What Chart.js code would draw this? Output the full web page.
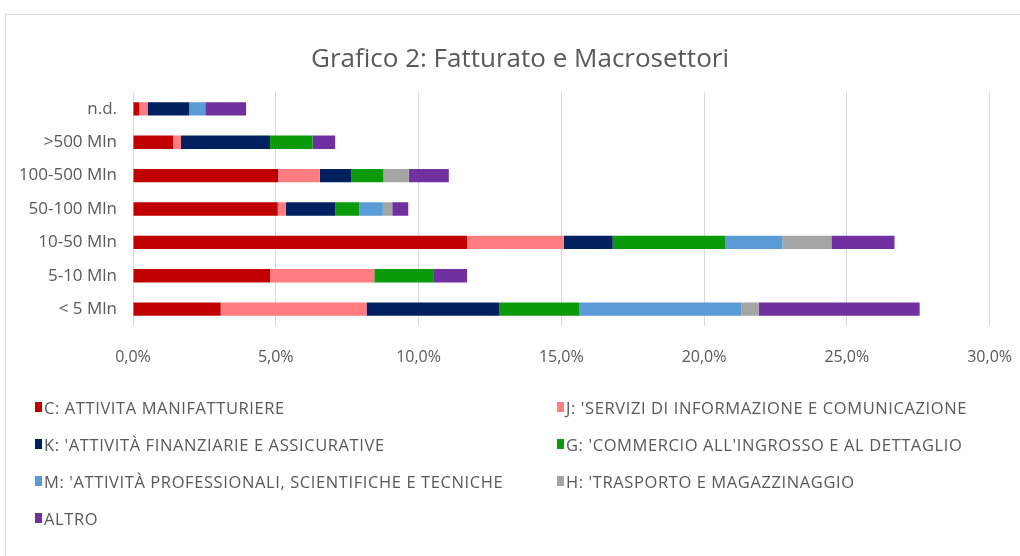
<!DOCTYPE html>
<html>
<head>
<meta charset="utf-8">
<script src="https://cdn.jsdelivr.net/npm/chart.js@4.4.1/dist/chart.umd.min.js"></script>
<style>
  html, body { margin: 0; padding: 0; background: #fff; overflow: hidden; }
  body { width: 1020px; height: 556px; position: relative; font-family: "Open Sans", sans-serif; }
  #frame { position: absolute; left: 5px; top: 14px; width: 1100px; height: 600px; border: 1px solid #d9d9d9; }
  #chart { position: absolute; left: 0; top: 0; }
  #legend { position: absolute; left: 35px; top: 395px; display: grid; grid-template-columns: 522px auto; grid-auto-rows: 37px; color: #595959; font-size: 16.5px; letter-spacing: 0.6px; }
  #legend .item { display: flex; align-items: center; white-space: nowrap; height: 24px; }
  #legend .box { width: 7px; height: 10px; margin-right: 2px; }
</style>
</head>
<body>
<div id="frame"></div>
<canvas id="chart" width="1034" height="398"></canvas>
<div id="legend"></div>
<script>
// categorie (dall'alto in basso)
const categories = ["n.d.", ">500 Mln", "100-500 Mln", "50-100 Mln", "10-50 Mln", "5-10 Mln", "< 5 Mln"];

// valori in %
const manifatturiere = [0.22, 1.41, 5.08, 5.07, 11.70, 4.80, 3.07];
const informazione   = [0.29, 0.27, 1.46, 0.28, 3.39, 3.65, 5.11];
const finanziarie    = [1.46, 3.12, 1.11, 1.74, 1.71, 0, 4.64];
const commercio      = [0, 1.49, 1.12, 0.84, 3.95, 2.09, 2.82];
const professionali  = [0.56, 0, 0, 0.82, 2.00, 0, 5.66];
const trasporto      = [0, 0, 0.89, 0.33, 1.71, 0, 0.61];
const altro          = [1.43, 0.79, 1.40, 0.56, 2.21, 1.16, 5.64];

const seriesNames = [
  "C: ATTIVITA MANIFATTURIERE",
  "J: 'SERVIZI DI INFORMAZIONE E COMUNICAZIONE",
  "K: 'ATTIVITÀ FINANZIARIE E ASSICURATIVE",
  "G: 'COMMERCIO ALL'INGROSSO E AL DETTAGLIO",
  "M: 'ATTIVITÀ PROFESSIONALI, SCIENTIFICHE E TECNICHE",
  "H: 'TRASPORTO E MAGAZZINAGGIO",
  "ALTRO"
];
const seriesColors = ["#c00000", "#ff7c80", "#002060", "#0a9a0a", "#5b9bd5", "#a5a5a5", "#7030a0"];
const seriesData = [manifatturiere, informazione, finanziarie, commercio, professionali, trasporto, altro];

const xTicks = [0, 5, 10, 15, 20, 25, 30];

const textColor = "#595959";
const fontFamily = "'Open Sans', sans-serif";

const datasets = seriesNames.map((name, i) => ({
  label: name,
  data: seriesData[i],
  backgroundColor: seriesColors[i],
  borderWidth: 0,
  barPercentage: 0.4,
  categoryPercentage: 1
}));

const ctx = document.getElementById("chart").getContext("2d");
new Chart(ctx, {
  type: "bar",
  data: { labels: categories, datasets: datasets },
  options: {
    indexAxis: "y",
    responsive: false,
    animation: false,
    // padding destro negativo: sposta il titolo a destra, l'area del grafico resta a 990
    layout: { padding: { top: 20, right: -6, bottom: 9, left: 0 } },
    plugins: {
      legend: { display: false },
      tooltip: { enabled: false },
      title: {
        display: true,
        text: "Grafico 2: Fatturato e Macrosettori",
        color: textColor,
        font: { family: fontFamily, size: 26, weight: "normal" },
        padding: { top: 24, bottom: 17 }
      }
    },
    scales: {
      x: {
        stacked: true,
        min: 0,
        max: 30,
        afterBuildTicks: (scale) => { scale.ticks = xTicks.map(v => ({ value: v })); },
        ticks: {
          color: textColor,
          font: { family: fontFamily, size: 16 },
          padding: 22,
          callback: (v) => v.toFixed(1).replace(".", ",") + "%"
        },
        grid: { color: "#d9d9d9", drawTicks: false },
        border: { display: false }
      },
      y: {
        stacked: true,
        afterFit: (scale) => { scale.width = 133; },
        ticks: {
          color: textColor,
          font: { family: fontFamily, size: 17 },
          padding: 16
        },
        grid: { display: false, drawTicks: false },
        border: { color: "#d9d9d9" }
      }
    }
  }
});

// legenda su due colonne
const legend = document.getElementById("legend");
seriesNames.forEach((name, i) => {
  const item = document.createElement("div");
  item.className = "item";
  const box = document.createElement("span");
  box.className = "box";
  box.style.background = seriesColors[i];
  const txt = document.createElement("span");
  txt.textContent = name;
  item.appendChild(box);
  item.appendChild(txt);
  legend.appendChild(item);
});
</script>
</body>
</html>
